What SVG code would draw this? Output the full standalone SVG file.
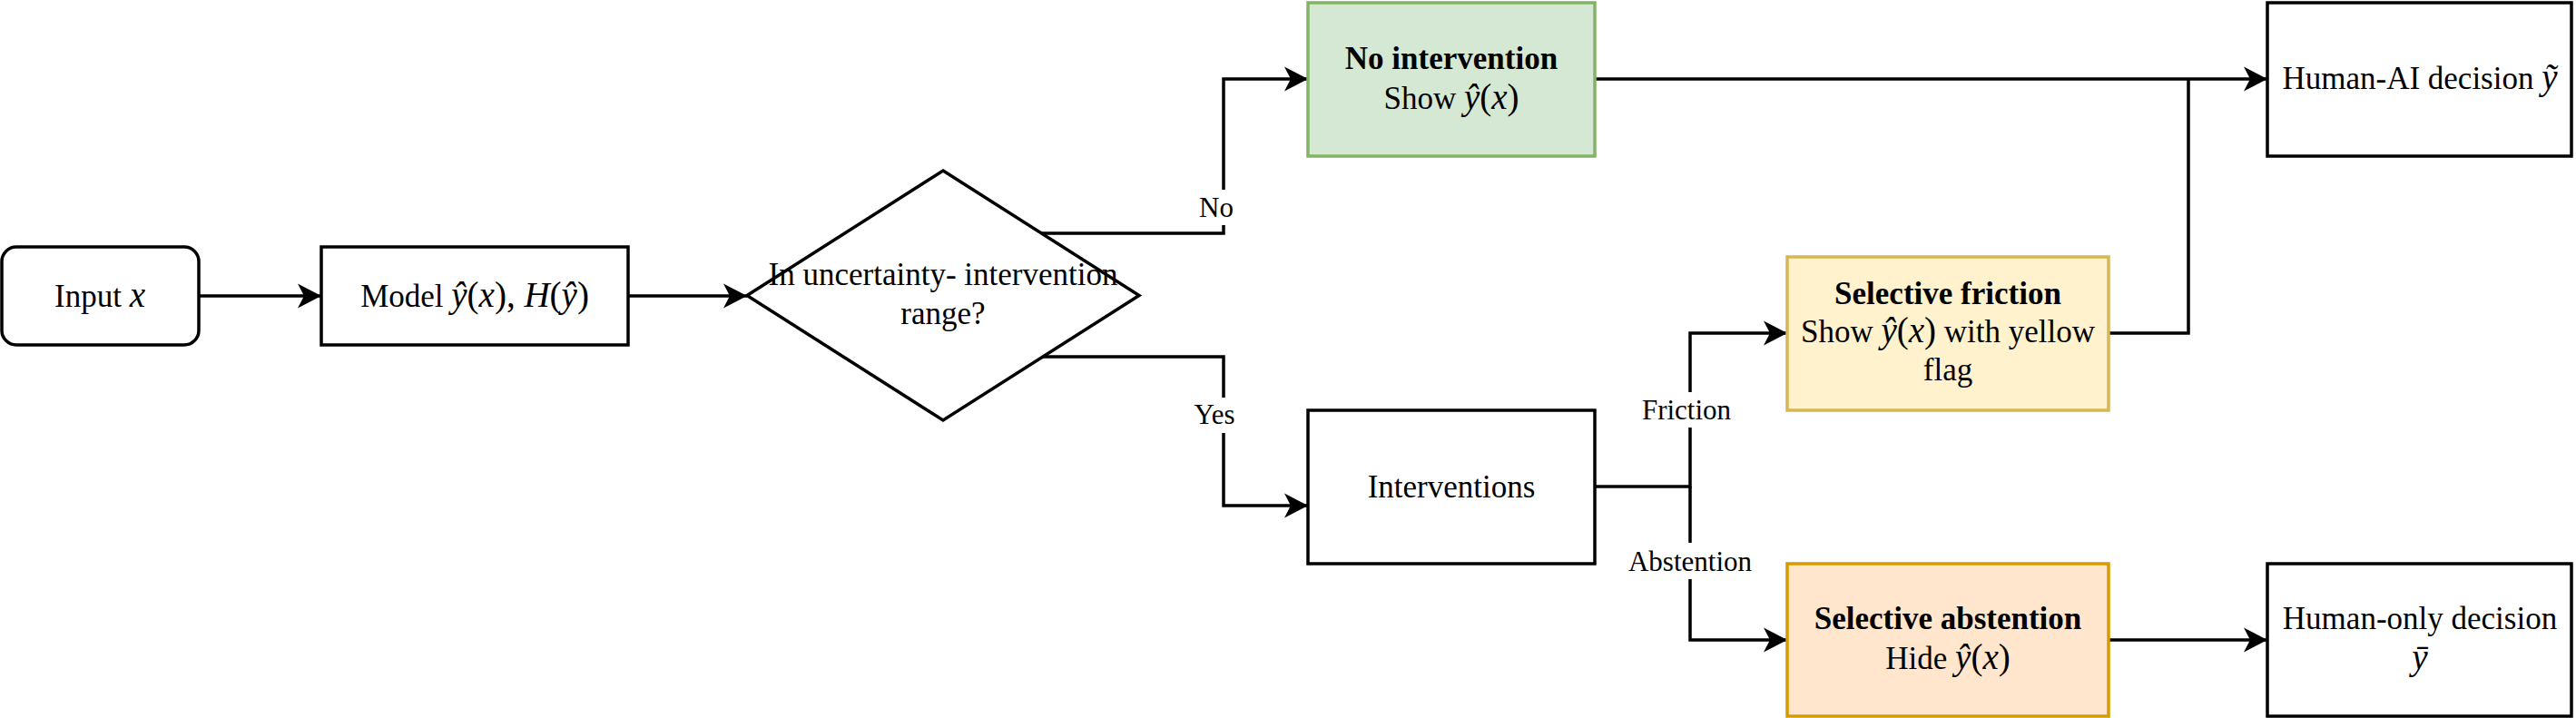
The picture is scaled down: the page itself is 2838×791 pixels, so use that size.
<svg xmlns="http://www.w3.org/2000/svg" width="2838" height="791" viewBox="0 0 2838 791">
<defs>
<marker id="arr" markerUnits="userSpaceOnUse" markerWidth="28" markerHeight="28" refX="26" refY="13.5" orient="auto" overflow="visible">
<path d="M0,0 L26,13.5 L0,27 L7,13.5 Z" fill="#000"/>
</marker>
</defs>
<style>
.box{fill:#fff;stroke:#000;stroke-width:3.5}
.green{fill:#d5e8d4;stroke:#82b366;stroke-width:3.5}
.yellow{fill:#fff2cc;stroke:#d6b656;stroke-width:3.5}
.orange{fill:#ffe6cc;stroke:#d79b00;stroke-width:3.5}
.t{font-family:"Liberation Serif","Times New Roman",serif;font-size:35px;fill:#000;text-anchor:middle}
.b{font-weight:bold}
.i{font-style:italic}
.m{font-size:39px}
.lbl{font-family:"Liberation Serif","Times New Roman",serif;font-size:31px;fill:#000;text-anchor:middle}
.edge{fill:none;stroke:#000;stroke-width:3.5}
.bg{fill:#fff;stroke:none}
</style>
<rect width="2838" height="791" fill="#fff"/>
<g id="connectors">
<path class="edge" d="M219,326 L354,326" marker-end="url(#arr)"/>
<path class="edge" d="M692,326 L823,326" marker-end="url(#arr)"/>
<path class="edge" d="M1146,257 L1348,257 L1348,87 L1441,87" marker-end="url(#arr)"/>
<path class="edge" d="M1146,393 L1348,393 L1348,557 L1441,557" marker-end="url(#arr)"/>
<path class="edge" d="M1757,536 L1862,536 L1862,367 L1969,367" marker-end="url(#arr)"/>
<path class="edge" d="M1862,536 L1862,705 L1969,705" marker-end="url(#arr)"/>
<path class="edge" d="M1757,87 L2498,87" marker-end="url(#arr)"/>
<path class="edge" d="M2323,367 L2411,367 L2411,87"/>
<path class="edge" d="M2323,705 L2498,705" marker-end="url(#arr)"/>
<rect class="bg" x="1318" y="209" width="44" height="39"/>
<text class="lbl" x="1340" y="239">No</text>
<rect class="bg" x="1312" y="438" width="52" height="39"/>
<text class="lbl" x="1338" y="467">Yes</text>
<rect class="bg" x="1800" y="432" width="114" height="39"/>
<text class="lbl" x="1858" y="462">Friction</text>
<rect class="bg" x="1790" y="598" width="144" height="40"/>
<text class="lbl" x="1862" y="629">Abstention</text>
</g>
<g id="input">
<rect class="box" x="2" y="272" width="217" height="108" rx="16"/>
<text class="t" x="110" y="338">Input <tspan class="m i">x</tspan></text>
</g>
<g id="model">
<rect class="box" x="354" y="272" width="338" height="108"/>
<text class="t" x="523" y="338">Model <tspan class="m"><tspan class="i">ŷ</tspan>(<tspan class="i">x</tspan>), <tspan class="i">H</tspan>(<tspan class="i">ŷ</tspan>)</tspan></text>
</g>
<g id="decision">
<polygon class="box" points="1039,188 1255,325.5 1039,463 823,325.5"/>
<text class="t" x="1039" y="314">In uncertainty- intervention</text>
<text class="t" x="1039" y="357">range?</text>
</g>
<g id="no-intervention">
<rect class="green" x="1441" y="3" width="316" height="169"/>
<text class="t b" x="1599" y="76">No intervention</text>
<text class="t" x="1599" y="120">Show <tspan class="m"><tspan class="i">ŷ</tspan>(<tspan class="i">x</tspan>)</tspan></text>
</g>
<g id="human-ai">
<rect class="box" x="2498" y="3" width="335" height="169"/>
<text class="t" x="2666" y="98">Human-AI decision <tspan class="m i">ỹ</tspan></text>
</g>
<g id="selective-friction">
<rect class="yellow" x="1969" y="283" width="354" height="169"/>
<text class="t b" x="2146" y="335">Selective friction</text>
<text class="t" x="2146" y="377">Show <tspan class="m"><tspan class="i">ŷ</tspan>(<tspan class="i">x</tspan>)</tspan> with yellow</text>
<text class="t" x="2146" y="419">flag</text>
</g>
<g id="interventions">
<rect class="box" x="1441" y="452" width="316" height="169"/>
<text class="t" x="1599" y="548">Interventions</text>
</g>
<g id="selective-abstention">
<rect class="orange" x="1969" y="621" width="354" height="168"/>
<text class="t b" x="2146" y="693">Selective abstention</text>
<text class="t" x="2146" y="737">Hide <tspan class="m"><tspan class="i">ŷ</tspan>(<tspan class="i">x</tspan>)</tspan></text>
</g>
<g id="human-only">
<rect class="box" x="2498" y="621" width="335" height="168"/>
<text class="t" x="2666" y="693">Human-only decision</text>
<text class="t" x="2666" y="737"><tspan class="m i">ȳ</tspan></text>
</g>
</svg>
